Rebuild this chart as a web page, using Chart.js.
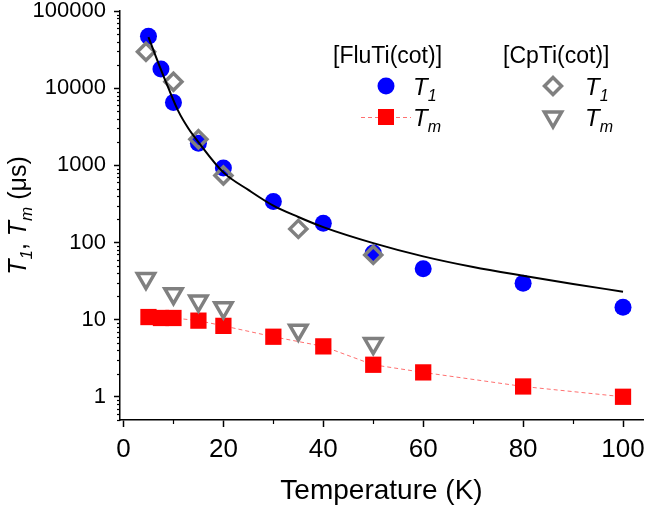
<!DOCTYPE html>
<html>
<head>
<meta charset="utf-8">
<script src="https://cdn.jsdelivr.net/npm/chart.js"></script>
<style>
  body { margin: 0; background: #fff; }
</style>
</head>
<body>
<canvas id="myChart" width="645" height="505"></canvas>
<script>
// [FluTi(cot)]
const tempFluT1 = [5, 7.5, 10, 15, 20, 30, 40, 50, 60, 80, 100];
const fluT1 = [47000, 17700, 6500, 1930, 920, 340, 178, 73, 45.5, 29.7, 14.5];
const tempFluTm = [5, 7.5, 10, 15, 20, 30, 40, 50, 60, 80, 100];
const fluTm = [10.8, 10.5, 10.5, 9.7, 8.3, 6.0, 4.5, 2.6, 2.07, 1.36, 1.0];

// [CpTi(cot)]
const tempCpT1 = [4.5, 10, 15, 20, 35, 50];
const cpT1 = [29700, 12100, 2180, 736, 150, 69];
const tempCpTm = [4.5, 10, 15, 20, 35, 50];
const cpTm = [34, 21.7, 17.4, 14.2, 7.3, 4.9];

// curva de ajuste
const tempFit = [5, 7, 9, 11, 13, 15, 20, 25, 30, 35, 40, 50, 60, 70, 80, 90, 100];
const fit = [46000, 21000, 10000, 5000, 3000, 2000, 810, 480, 300, 214, 158, 98, 66, 48, 37, 29, 23];

// ticks
const xTicks = [0, 20, 40, 60, 80, 100];
const xMinor = [10, 30, 50, 70, 90];
const yTicks = [1, 10, 100, 1000, 10000, 100000];

const azul = "#0000ff";
const rojo = "#ff0000";
const gris = "#808080";
const fuente = "'Liberation Sans', Arial, sans-serif";

const puntos = (xs, ys) => xs.map((x, i) => ({ x, y: ys[i] }));

// texto con cursiva y subíndices
function anchoTexto(ctx, partes) {
    let w = 0;
    for (const p of partes) {
        ctx.font = `${p.it ? "italic " : ""}${p.s}px ${fuente}`;
        w += ctx.measureText(p.t).width;
    }
    return w;
}

function dibujarTexto(ctx, partes, x, y) {
    for (const p of partes) {
        ctx.font = `${p.it ? "italic " : ""}${p.s}px ${fuente}`;
        ctx.fillText(p.t, x, y + (p.sub ? 6 : 0));
        x += ctx.measureText(p.t).width;
    }
}

const t1 = [{ t: "T", it: true, s: 24 }, { t: "1", it: true, s: 16, sub: true }];
const tm = [{ t: "T", it: true, s: 24 }, { t: "m", it: true, s: 16, sub: true }];

// Plugin: ticks menores, título del eje y y leyenda
const extras = {
    id: "extras",
    afterDraw(chart) {
        const ctx = chart.ctx;
        const xs = chart.scales.x;
        const ys = chart.scales.y;
        const area = chart.chartArea;

        ctx.save();
        ctx.strokeStyle = "#000";
        ctx.lineWidth = 1.2;

        // ticks menores eje x
        for (const v of xMinor) {
            const px = Math.round(xs.getPixelForValue(v)) + 0.5;
            ctx.beginPath();
            ctx.moveTo(px, area.bottom);
            ctx.lineTo(px, area.bottom + 4);
            ctx.stroke();
        }

        // ticks menores eje y (log)
        for (let dec = 0.1; dec <= 10000; dec *= 10) {
            for (let k = 2; k <= 9; k++) {
                const v = k * dec;
                if (v < ys.min || v > ys.max) continue;
                const py = Math.round(ys.getPixelForValue(v)) + 0.5;
                ctx.beginPath();
                ctx.moveTo(area.left, py);
                ctx.lineTo(area.left - 3, py);
                ctx.stroke();
            }
        }

        // título eje y
        ctx.fillStyle = "#000";
        ctx.textBaseline = "alphabetic";
        const titulo = [
            { t: "T", it: true, s: 25 }, { t: "1", it: true, s: 17, sub: true },
            { t: ", ", s: 25 },
            { t: "T", it: true, s: 25 }, { t: "m", it: true, s: 17, sub: true },
            { t: " (μs)", s: 25 },
        ];
        ctx.translate(26, (area.top + area.bottom) / 2);
        ctx.rotate(-Math.PI / 2);
        dibujarTexto(ctx, titulo, -anchoTexto(ctx, titulo) / 2, 0);
        ctx.setTransform(1, 0, 0, 1, 0, 0);

        // leyenda
        ctx.font = `23px ${fuente}`;
        ctx.fillText("[FluTi(cot)]", 333, 63);
        ctx.fillText("[CpTi(cot)]", 503, 63);

        // círculo azul
        ctx.fillStyle = azul;
        ctx.beginPath();
        ctx.arc(386, 86, 8.5, 0, Math.PI * 2);
        ctx.fill();

        // línea punteada y cuadrado rojo
        ctx.strokeStyle = "#ff7070";
        ctx.lineWidth = 1;
        ctx.setLineDash([4, 3]);
        ctx.beginPath();
        ctx.moveTo(361, 117.5);
        ctx.lineTo(411, 117.5);
        ctx.stroke();
        ctx.setLineDash([]);
        ctx.fillStyle = rojo;
        ctx.fillRect(378, 109, 16, 16);

        // rombo y triángulo gris
        ctx.strokeStyle = gris;
        ctx.lineWidth = 3.5;
        ctx.beginPath();
        ctx.moveTo(553 - 8.5, 86);
        ctx.lineTo(553, 86 - 8.5);
        ctx.lineTo(553 + 8.5, 86);
        ctx.lineTo(553, 86 + 8.5);
        ctx.closePath();
        ctx.stroke();
        ctx.beginPath();
        ctx.moveTo(553, 117 + 10);
        ctx.lineTo(553 - 8.66, 117 - 5);
        ctx.lineTo(553 + 8.66, 117 - 5);
        ctx.closePath();
        ctx.stroke();

        ctx.fillStyle = "#000";
        dibujarTexto(ctx, t1, 413, 95);
        dibujarTexto(ctx, tm, 413, 126);
        dibujarTexto(ctx, t1, 585, 95);
        dibujarTexto(ctx, tm, 585, 126);

        ctx.restore();
    }
};

const config = {
    type: "scatter",
    data: {
        datasets: [
            {
                label: "fit",
                data: puntos(tempFit, fit),
                showLine: true,
                borderColor: "#000",
                borderWidth: 2,
                pointRadius: 0,
                cubicInterpolationMode: "monotone",
                order: 0,
            },
            {
                label: "CpTi T1",
                data: puntos(tempCpT1, cpT1),
                pointStyle: "rectRot",
                pointRadius: 8.5,
                pointBorderWidth: 3.5,
                pointBorderColor: gris,
                pointBackgroundColor: "rgba(0,0,0,0)",
                order: 1,
            },
            {
                label: "CpTi Tm",
                data: puntos(tempCpTm, cpTm),
                pointStyle: "triangle",
                pointRotation: 180,
                pointRadius: 10,
                pointBorderWidth: 3.5,
                pointBorderColor: gris,
                pointBackgroundColor: "rgba(0,0,0,0)",
                order: 2,
            },
            {
                label: "FluTi T1",
                data: puntos(tempFluT1, fluT1),
                pointStyle: "circle",
                pointRadius: 8.5,
                pointBorderWidth: 0,
                pointBackgroundColor: azul,
                order: 3,
            },
            {
                label: "FluTi Tm",
                data: puntos(tempFluTm, fluTm),
                showLine: true,
                borderColor: "#ff7070",
                borderWidth: 1,
                borderDash: [4, 3],
                pointStyle: "rect",
                pointRadius: 11.5,
                pointBorderWidth: 0,
                pointBackgroundColor: rojo,
                order: 4,
            },
        ]
    },
    options: {
        responsive: false,
        animation: false,
        layout: {
            autoPadding: false,
            padding: { top: 11, right: 2, left: 0, bottom: 0 }
        },
        plugins: {
            legend: { display: false },
            tooltip: { enabled: false },
        },
        scales: {
            x: {
                type: "linear",
                min: -0.7,
                max: 104,
                afterBuildTicks: (scale) => {
                    scale.ticks = xTicks.map(v => ({ value: v }));
                },
                afterFit: (scale) => {
                    scale.height = 85;
                    scale.paddingLeft = 0;
                    scale.paddingRight = 0;
                },
                ticks: {
                    color: "#000",
                    padding: 10,
                    maxRotation: 0,
                    font: { family: fuente, size: 26, lineHeight: 1 },
                },
                grid: {
                    drawOnChartArea: false,
                    tickLength: 7,
                    tickColor: "#000",
                    tickWidth: 1.5,
                },
                border: { color: "#000", width: 1.5 },
                title: {
                    display: true,
                    text: "Temperature (K)",
                    color: "#000",
                    font: { family: fuente, size: 28, lineHeight: 1 },
                    padding: { top: 0, bottom: 0 },
                },
            },
            y: {
                type: "logarithmic",
                min: 0.5,
                max: 100000,
                afterBuildTicks: (scale) => {
                    scale.ticks = yTicks.map(v => ({ value: v }));
                },
                afterFit: (scale) => {
                    scale.width = 120;
                    scale.paddingTop = 0;
                    scale.paddingBottom = 0;
                },
                ticks: {
                    color: "#000",
                    padding: 8,
                    font: { family: fuente, size: 22, lineHeight: 1 },
                    callback: (value) => String(value),
                },
                grid: {
                    drawOnChartArea: false,
                    tickLength: 6,
                    tickColor: "#000",
                    tickWidth: 1.5,
                },
                border: { color: "#000", width: 1.5 },
            }
        }
    },
    plugins: [extras],
};

new Chart(document.getElementById("myChart"), config);
</script>
</body>
</html>
